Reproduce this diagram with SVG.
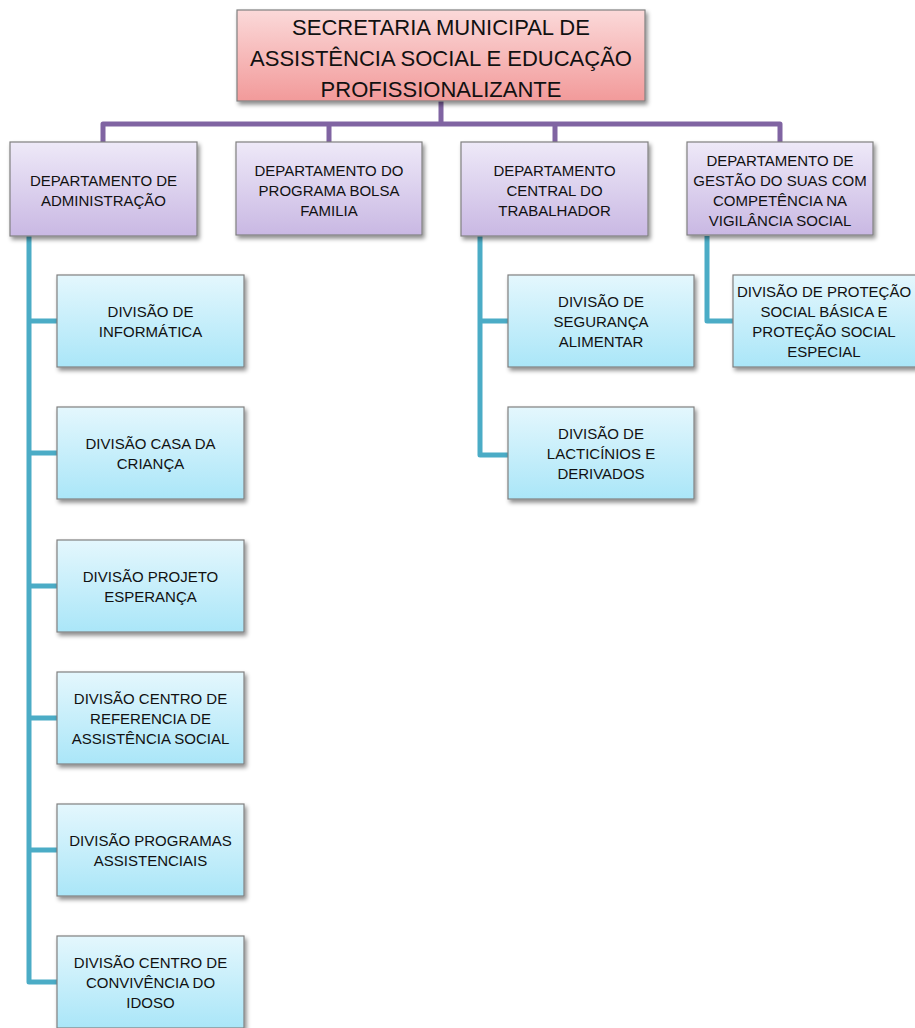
<svg xmlns="http://www.w3.org/2000/svg" width="915" height="1028" viewBox="0 0 915 1028">
<defs>
<linearGradient id="gPink" x1="0" y1="0" x2="0" y2="1"><stop offset="0" stop-color="#fbd9d9"/><stop offset="1" stop-color="#f29a9a"/></linearGradient>
<linearGradient id="gPurple" x1="0" y1="0" x2="0" y2="1"><stop offset="0" stop-color="#eee9f8"/><stop offset="1" stop-color="#c9b8e3"/></linearGradient>
<linearGradient id="gBlue" x1="0" y1="0" x2="0" y2="1"><stop offset="0" stop-color="#e4f7fd"/><stop offset="1" stop-color="#aae6f8"/></linearGradient>
<filter id="sh" x="-10%" y="-10%" width="130%" height="140%"><feDropShadow dx="2" dy="3" stdDeviation="2" flood-color="#000" flood-opacity="0.45"/></filter>
</defs>
<style>
.box{stroke:#808080;stroke-width:1.2;filter:url(#sh)}
.pink{fill:url(#gPink)}
.purple{fill:url(#gPurple)}
.blue{fill:url(#gBlue)}
text{font-family:"Liberation Sans",Arial,sans-serif;fill:#111;text-anchor:middle}
.t{font-size:22px}
.s{font-size:15px}
.cp{fill:none;stroke:#8064a2;stroke-width:5;stroke-linejoin:round;stroke-linecap:butt}
.cc{fill:none;stroke:#4bacc6;stroke-width:5;stroke-linejoin:round;stroke-linecap:butt}
</style>
<rect width="915" height="1028" fill="#fff"/>
<g id="connectors">
<path class="cp" d="M441,101 V124 M103,142 V124 H780 V142 M329,124 V142 M555,124 V142"/>
<path class="cc" d="M29,236 V982 H57 M29,321 H57 M29,453 H57 M29,586 H57 M29,718 H57 M29,850 H57"/>
<path class="cc" d="M480,236 V455 H508 M480,321 H508"/>
<path class="cc" d="M707,236 V321 H733"/>
</g>
<g id="secretaria">
<rect class="box pink" x="237" y="10" width="408" height="91"/>
<text class="t" x="441" y="35">SECRETARIA MUNICIPAL DE</text>
<text class="t" x="441" y="66">ASSISTÊNCIA SOCIAL E EDUCAÇÃO</text>
<text class="t" x="441" y="97">PROFISSIONALIZANTE</text>
</g>
<g id="dep-admin">
<rect class="box purple" x="10" y="142" width="187" height="94"/>
<text class="s" x="103.5" y="185.5">DEPARTAMENTO DE</text>
<text class="s" x="103.5" y="205.5">ADMINISTRAÇÃO</text>
</g>
<g id="dep-bolsa">
<rect class="box purple" x="236" y="142" width="186" height="93"/>
<text class="s" x="329" y="175.5">DEPARTAMENTO DO</text>
<text class="s" x="329" y="195.5">PROGRAMA BOLSA</text>
<text class="s" x="329" y="215.5">FAMILIA</text>
</g>
<g id="dep-trabalhador">
<rect class="box purple" x="461" y="142" width="187" height="94"/>
<text class="s" x="554.5" y="175.5">DEPARTAMENTO</text>
<text class="s" x="554.5" y="195.5">CENTRAL DO</text>
<text class="s" x="554.5" y="215.5">TRABALHADOR</text>
</g>
<g id="dep-suas">
<rect class="box purple" x="687" y="142" width="186" height="93"/>
<text class="s" x="780" y="165.5">DEPARTAMENTO DE</text>
<text class="s" x="780" y="185.5">GESTÃO DO SUAS COM</text>
<text class="s" x="780" y="205.5">COMPETÊNCIA NA</text>
<text class="s" x="780" y="225.5">VIGILÂNCIA SOCIAL</text>
</g>
<g id="div-informatica">
<rect class="box blue" x="57" y="275" width="187" height="92"/>
<text class="s" x="150.5" y="316.5">DIVISÃO DE</text>
<text class="s" x="150.5" y="336.5">INFORMÁTICA</text>
</g>
<g id="div-casa">
<rect class="box blue" x="57" y="407" width="187" height="92"/>
<text class="s" x="150.5" y="448.5">DIVISÃO CASA DA</text>
<text class="s" x="150.5" y="468.5">CRIANÇA</text>
</g>
<g id="div-esperanca">
<rect class="box blue" x="57" y="540" width="187" height="92"/>
<text class="s" x="150.5" y="581.5">DIVISÃO PROJETO</text>
<text class="s" x="150.5" y="601.5">ESPERANÇA</text>
</g>
<g id="div-referencia">
<rect class="box blue" x="57" y="672" width="187" height="92"/>
<text class="s" x="150.5" y="703.5">DIVISÃO CENTRO DE</text>
<text class="s" x="150.5" y="723.5">REFERENCIA DE</text>
<text class="s" x="150.5" y="743.5">ASSISTÊNCIA SOCIAL</text>
</g>
<g id="div-programas">
<rect class="box blue" x="57" y="804" width="187" height="92"/>
<text class="s" x="150.5" y="845.5">DIVISÃO PROGRAMAS</text>
<text class="s" x="150.5" y="865.5">ASSISTENCIAIS</text>
</g>
<g id="div-idoso">
<rect class="box blue" x="57" y="936" width="187" height="92"/>
<text class="s" x="150.5" y="967.5">DIVISÃO CENTRO DE</text>
<text class="s" x="150.5" y="987.5">CONVIVÊNCIA DO</text>
<text class="s" x="150.5" y="1007.5">IDOSO</text>
</g>
<g id="div-seguranca">
<rect class="box blue" x="508" y="275" width="186" height="92"/>
<text class="s" x="601" y="306.5">DIVISÃO DE</text>
<text class="s" x="601" y="326.5">SEGURANÇA</text>
<text class="s" x="601" y="346.5">ALIMENTAR</text>
</g>
<g id="div-lacticinios">
<rect class="box blue" x="508" y="407" width="186" height="92"/>
<text class="s" x="601" y="438.5">DIVISÃO DE</text>
<text class="s" x="601" y="458.5">LACTICÍNIOS E</text>
<text class="s" x="601" y="478.5">DERIVADOS</text>
</g>
<g id="div-protecao">
<rect class="box blue" x="733" y="275" width="184" height="92"/>
<text class="s" x="824" y="296.5">DIVISÃO DE PROTEÇÃO</text>
<text class="s" x="824" y="316.5">SOCIAL BÁSICA E</text>
<text class="s" x="824" y="336.5">PROTEÇÃO SOCIAL</text>
<text class="s" x="824" y="356.5">ESPECIAL</text>
</g>
</svg>
